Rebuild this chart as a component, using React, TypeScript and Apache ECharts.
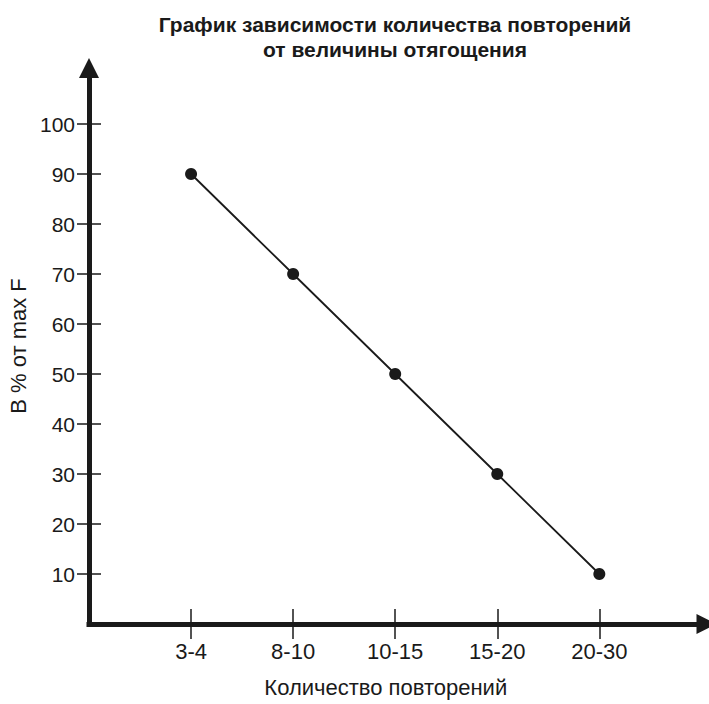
import React, { useEffect, useRef } from "react";
import * as echarts from "echarts";

const titleLines = ["График зависимости количества повторений", "от величины отягощения"];
const categories = ["3-4", "8-10", "10-15", "15-20", "20-30"];
const values = [90, 70, 50, 30, 10];
const yTicks = [10, 20, 30, 40, 50, 60, 70, 80, 90, 100];
const xAxisName = "Количество повторений";
const yAxisName = "В % от max F";

const INK = "#1a1a1a";
const FONT = "Liberation Sans, Arial, sans-serif";

export default function App() {
  const ref = useRef<HTMLDivElement>(null);
  useEffect(() => {
    if (!ref.current) return;
    const chart = echarts.init(ref.current, null, { renderer: "svg" });
    const xPositions = categories.map((_, i) => i + 1);
    const data = values.map((v, i) => [xPositions[i], v]);
    const lineStyle = { color: INK, width: 5, cap: "square" };
    chart.setOption({
      animation: false,
      backgroundColor: "#ffffff",
      textStyle: { fontFamily: FONT },
      title: {
        text: titleLines.join("\n"),
        left: 390,
        textAlign: "center",
        top: 7,
        textStyle: { fontFamily: FONT, fontSize: 21, fontWeight: "bold", color: INK, lineHeight: 25 },
      },
      grid: { left: 89, right: 2.5, top: 68, bottom: 80, containLabel: false, outerBoundsMode: "none" },
      xAxis: [
        {
          type: "value",
          min: 0,
          max: 6.05,
          position: "bottom",
          axisLine: { show: true, lineStyle, symbol: ["none", "triangle"], symbolSize: [20, 20] },
          axisTick: { show: true, length: 15, customValues: xPositions, lineStyle: { color: INK, width: 1.5 } },
          axisLabel: {
            customValues: xPositions,
            formatter: (v: number) => categories[Math.round(v) - 1] ?? "",
            color: INK,
            fontSize: 22,
            margin: 16,
            fontFamily: FONT,
          },
          splitLine: { show: false },
          name: xAxisName,
          nameLocation: "middle",
          nameGap: 52,
          nameTextStyle: { fontSize: 22, color: INK, fontFamily: FONT, padding: [0, 24, 0, 0] },
        },
        {
          type: "value",
          min: 0,
          max: 6.05,
          position: "bottom",
          axisLine: { show: false },
          axisTick: { show: true, inside: true, length: 15, customValues: xPositions, lineStyle: { color: INK, width: 1.5 } },
          axisLabel: { show: false },
          splitLine: { show: false },
        },
      ],
      yAxis: [
        {
          type: "value",
          min: 0,
          max: 111.2,
          position: "left",
          axisLine: { show: true, lineStyle, symbol: ["none", "triangle"], symbolSize: [20, 20] },
          axisTick: { show: true, length: 12, customValues: yTicks, lineStyle: { color: INK, width: 1.5 } },
          axisLabel: {
            customValues: yTicks,
            color: INK,
            fontSize: 21,
            margin: 14,
            fontFamily: FONT,
          },
          splitLine: { show: false },
          name: yAxisName,
          nameLocation: "middle",
          nameGap: 60,
          nameRotate: 90,
          nameTextStyle: { fontSize: 22, color: INK, fontFamily: FONT },
        },
        {
          type: "value",
          min: 0,
          max: 111.2,
          position: "left",
          axisLine: { show: false },
          axisTick: { show: true, inside: true, length: 12, customValues: yTicks, lineStyle: { color: INK, width: 1.5 } },
          axisLabel: { show: false },
          splitLine: { show: false },
        },
      ],
      series: [
        {
          type: "line",
          data,
          xAxisIndex: 0,
          yAxisIndex: 0,
          symbol: "circle",
          symbolSize: 12,
          lineStyle: { color: INK, width: 1.8 },
          itemStyle: { color: INK },
          z: 5,
        },
      ],
    });
    return () => chart.dispose();
  }, []);
  return <div ref={ref} style={{ position: "fixed", left: 0, top: 0, width: 709, height: 704 }} />;
}
